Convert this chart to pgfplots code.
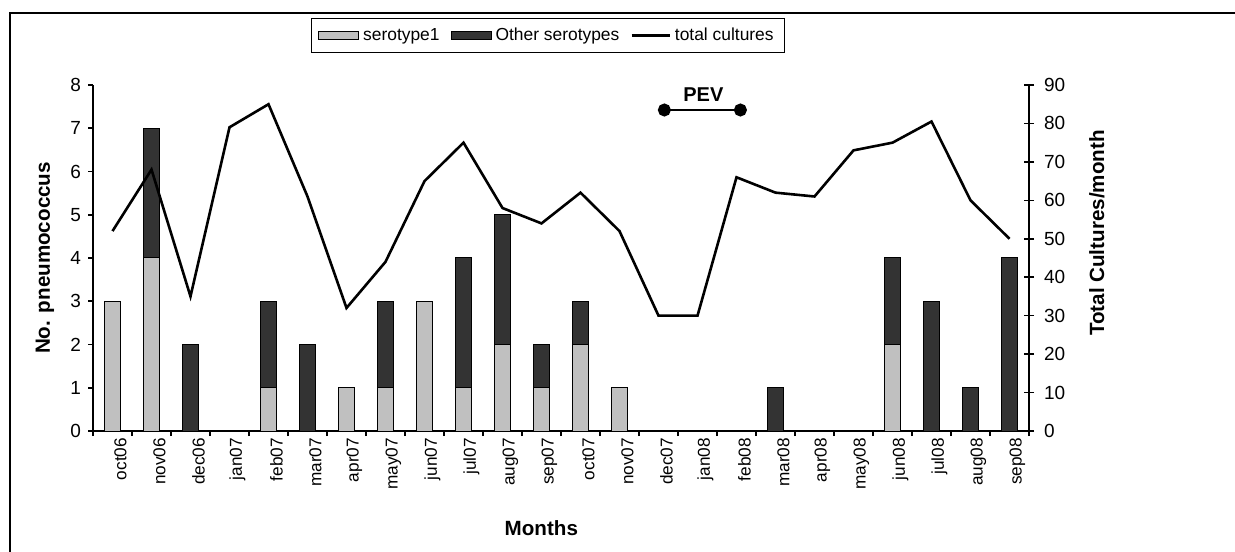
\documentclass[border=0pt]{standalone}
\usepackage{fontspec}
\setmainfont{Liberation Sans}
\usepackage{pgfplots}
\pgfplotsset{compat=1.18}
\definecolor{lg}{HTML}{C0C0C0}
\definecolor{dg}{HTML}{333333}
\pgfplotsset{
  linelegend/.style={legend image code/.code={\draw[##1] (0pt,0pt) -- (19pt,0pt);}},
  boxlegend/.style={legend image code/.code={\draw[##1, line width=0.5pt] (0pt,-2pt) rectangle (20pt,2pt);}},
}
\begin{document}
\begin{tikzpicture}
\useasboundingbox (0,0) rectangle (617.5pt,275.5pt);
\draw[line width=1pt] (4.75pt,-1pt) -- (4.75pt,269.2pt) -- (619pt,269.2pt);
\begin{axis}[
  scale only axis, width=468pt, height=173pt,
  at={(46.5pt,60pt)}, anchor=south west,
  xmin=-0.5, xmax=23.5, ymin=0, ymax=8,
  axis x line*=bottom, axis y line*=left,
  axis line style={line width=1pt},
  ybar stacked, bar width=0.42,
  tick align=outside, major tick length=2.5pt,
  tick style={black, line width=0.8pt},
  xtick={-0.5,0.5,...,23.5}, xticklabels={},
  extra x ticks={0,...,23},
  extra x tick labels={oct06,nov06,dec06,jan07,feb07,mar07,apr07,may07,jun07,jul07,aug07,sep07,oct07,nov07,dec07,jan08,feb08,mar08,apr08,may08,jun08,jul08,aug08,sep08},
  extra x tick style={major tick length=0pt, tick style={draw=none},
     xticklabel style={rotate=90, anchor=east, font=\fontsize{8.6}{10}\selectfont, yshift=-4pt}},
  ytick={0,1,...,8},
  yticklabel style={font=\fontsize{9.5}{11}\selectfont},
  /pgf/number format/assume math mode=true,
  ylabel={\bfseries No. pneumococcus},
  ylabel style={at={(axis description cs:-0.0513,0.5)}, anchor=center, rotate=0, font=\fontsize{10.3}{12}\selectfont},
  xlabel={\bfseries Months},
  xlabel style={at={(axis description cs:0.479,-0.28)}, anchor=center, font=\fontsize{10.3}{12}\selectfont},
  legend columns=3,
  legend style={at={(axis description cs:0.486,1.193)}, anchor=north, draw=black, line width=0.6pt,
     font=\fontsize{8.7}{10}\selectfont, inner xsep=3.5pt, inner ysep=2.5pt,
     /tikz/every even column/.append style={column sep=3.5pt}},
  boxlegend,
]
\addplot[fill=lg, draw=black, line width=0.5pt] coordinates {
(0,3) (1,4) (2,0) (3,0) (4,1) (5,0) (6,1) (7,1) (8,3) (9,1) (10,2) (11,1)
(12,2) (13,1) (14,0) (15,0) (16,0) (17,0) (18,0) (19,0) (20,2) (21,0) (22,0) (23,0)};
\addlegendentry{serotype1}
\addplot[fill=dg, draw=black, line width=0.5pt] coordinates {
(0,0) (1,3) (2,2) (3,0) (4,2) (5,2) (6,0) (7,2) (8,0) (9,3) (10,3) (11,1)
(12,1) (13,0) (14,0) (15,0) (16,0) (17,1) (18,0) (19,0) (20,2) (21,3) (22,1) (23,4)};
\addlegendentry{Other serotypes}
\addlegendimage{black, line width=1.3pt, linelegend}
\addlegendentry{total cultures}
\end{axis}
\begin{axis}[
  scale only axis, width=468pt, height=173pt,
  at={(46.5pt,60pt)}, anchor=south west,
  xmin=-0.5, xmax=23.5, ymin=0, ymax=90,
  axis y line*=right, axis x line=none,
  axis line style={line width=1pt},
  tick align=center, major tick length=5pt,
  tick style={black, line width=0.8pt},
  ytick={0,10,...,90},
  yticklabel style={font=\fontsize{9.5}{11}\selectfont, xshift=1.5pt},
  /pgf/number format/assume math mode=true,
  ylabel={\bfseries Total Cultures/month},
  ylabel style={at={(axis description cs:1.0726,0.572)}, anchor=center, rotate=0, font=\fontsize{10.3}{12}\selectfont},
]
\addplot[black, line width=1.3pt, mark=none] coordinates {
(0,52) (1,68) (2,35) (3,79) (4,85) (5,61) (6,32) (7,44) (8,65) (9,75) (10,58) (11,54)
(12,62) (13,52) (14,30) (15,30) (16,66) (17,62) (18,61) (19,73) (20,75) (21,80.5) (22,60) (23,50)};
\addplot[black, line width=1pt, mark=*, mark size=2.75pt, mark options={fill=black}] coordinates {(14.15,83.5) (16.1,83.5)};
\node[font=\fontsize{10}{12}\selectfont\bfseries] at (axis cs:15.15,87.6) {PEV};
\end{axis}
\end{tikzpicture}
\end{document}
